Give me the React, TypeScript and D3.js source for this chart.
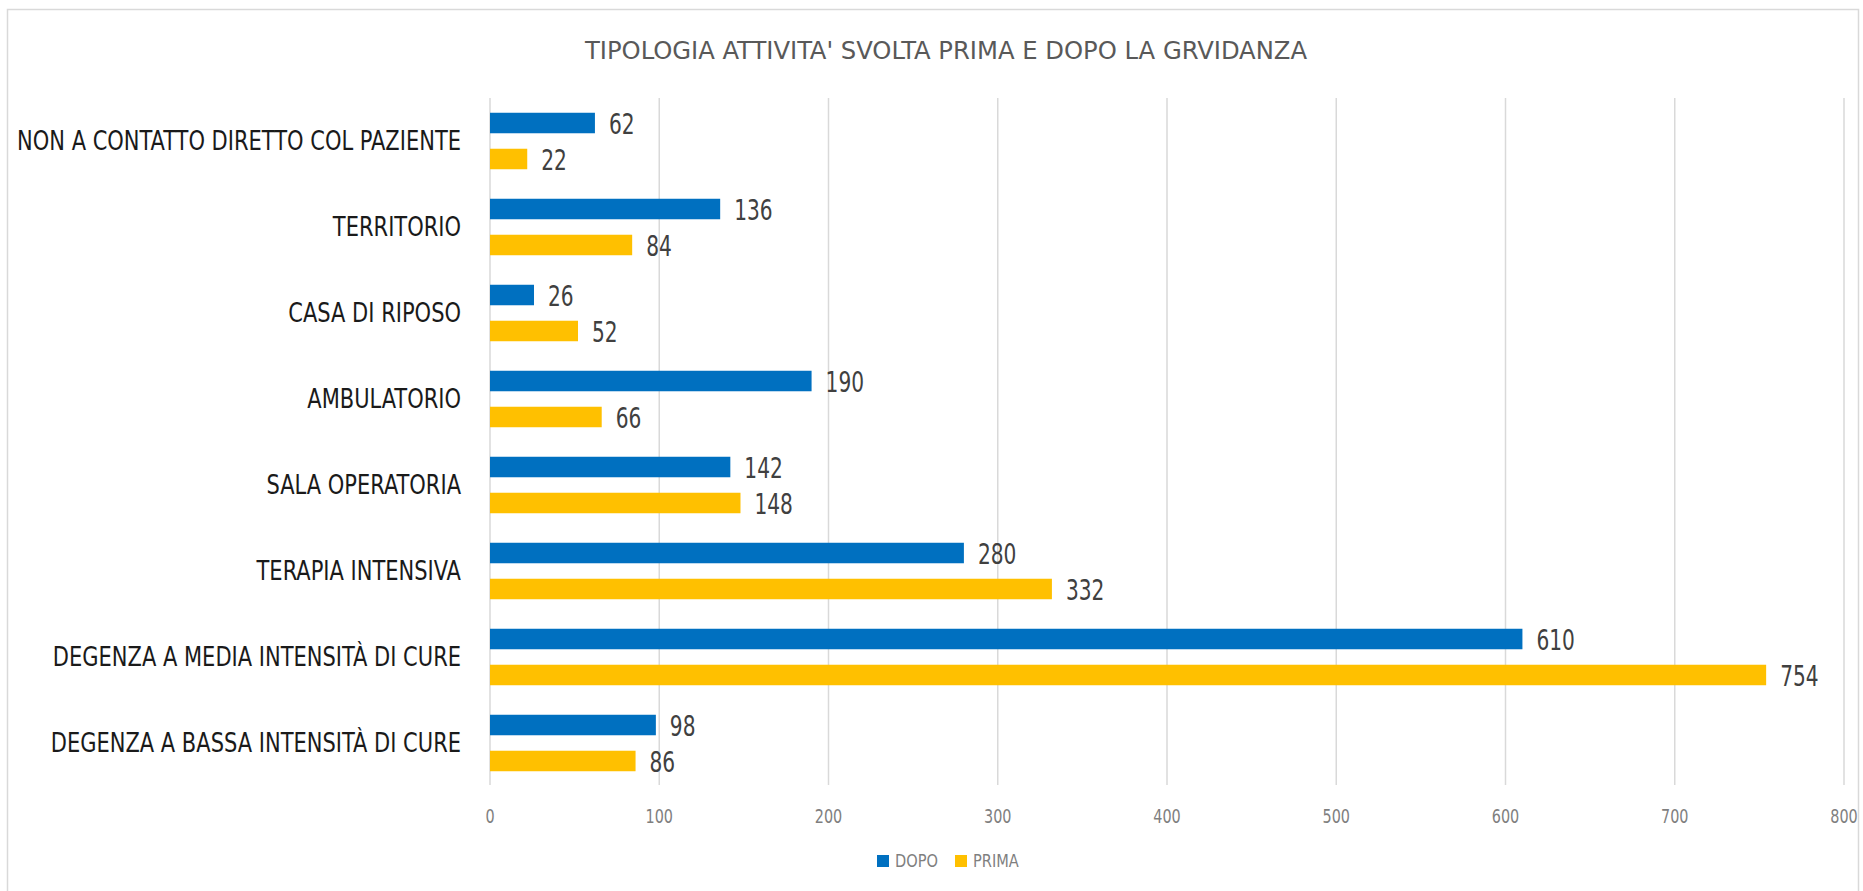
import React from "react";
import * as d3 from "d3";

const categories = [
  "NON A CONTATTO DIRETTO COL PAZIENTE",
  "TERRITORIO",
  "CASA DI RIPOSO",
  "AMBULATORIO",
  "SALA OPERATORIA",
  "TERAPIA INTENSIVA",
  "DEGENZA A MEDIA INTENSITÀ DI CURE",
  "DEGENZA A BASSA INTENSITÀ DI CURE",
];
const dopo = [62, 136, 26, 190, 142, 280, 610, 98];
const prima = [22, 84, 52, 66, 148, 332, 754, 86];
const seriesNames = ["DOPO", "PRIMA"];
const seriesColors = ["#0070C0", "#FFC000"];
const ticks = [0, 100, 200, 300, 400, 500, 600, 700, 800];
const title = "TIPOLOGIA ATTIVITA' SVOLTA PRIMA E DOPO LA GRVIDANZA";

const FONT = "'Liberation Sans Narrow', 'DejaVu Sans Condensed', 'Arial Narrow', sans-serif";

type TProps = {
  x: number;
  y: number;
  sx: number;
  size: number;
  fill: string;
  anchor?: "start" | "middle" | "end";
  children: React.ReactNode;
};

function T({ x, y, sx, size, fill, anchor = "start", children }: TProps) {
  return (
    <g transform={`translate(${x},${y}) scale(${sx},1)`}>
      <text x={0} y={0} textAnchor={anchor} dominantBaseline="central" fontSize={size} fill={fill}>
        {children}
      </text>
    </g>
  );
}

export default function App() {
  const W = 1863;
  const H = 891;
  const x = d3.scaleLinear().domain([0, 800]).range([490, 1844]);
  const y = d3.scaleBand<string>().domain(categories).range([98, 786]).paddingInner(0).paddingOuter(0);
  const ys = d3
    .scaleBand<string>()
    .domain(seriesNames)
    .range([0, y.bandwidth()])
    .paddingInner(0.43)
    .paddingOuter(0.41);
  const values = [dopo, prima];

  return (
    <svg width={W} height={H} style={{ position: "absolute", left: 0, top: 0, background: "#fff" }} fontFamily={FONT}>
      <rect x={0} y={0} width={W} height={H} fill="#fff" />
      <rect x={7.5} y={9.5} width={1851} height={900} fill="#fff" stroke="#d9d9d9" strokeWidth={1.5} />
      <T x={946} y={50} sx={1.08} size={25} fill="#595959" anchor="middle">
        {title}
      </T>
      {ticks.map((t) => (
        <g key={t}>
          <line x1={x(t)} x2={x(t)} y1={98} y2={785} stroke="#d9d9d9" strokeWidth={1.5} />
          <T x={x(t)} y={816} sx={0.8} size={20} fill="#7f7f7f" anchor="middle">
            {t}
          </T>
        </g>
      ))}
      {categories.map((c, i) => (
        <g key={c}>
          <T x={461} y={(y(c) as number) + y.bandwidth() / 2} sx={0.865} size={27} fill="#1a1a1a" anchor="end">
            {c}
          </T>
          {seriesNames.map((s, j) => {
            const v = values[j][i];
            const by = (y(c) as number) + (ys(s) as number);
            return (
              <g key={s}>
                <rect x={x(0)} y={by} width={x(v) - x(0)} height={ys.bandwidth()} fill={seriesColors[j]} />
                <T x={x(v) + 14} y={by + ys.bandwidth() / 2 + 1} sx={0.8} size={28} fill="#404040">
                  {v}
                </T>
              </g>
            );
          })}
        </g>
      ))}
      <g>
        <rect x={877} y={855} width={12} height={12} fill={seriesColors[0]} />
        <T x={895} y={861} sx={0.9} size={18} fill="#7f7f7f">
          {seriesNames[0]}
        </T>
        <rect x={955} y={855} width={12} height={12} fill={seriesColors[1]} />
        <T x={973} y={861} sx={0.9} size={18} fill="#7f7f7f">
          {seriesNames[1]}
        </T>
      </g>
    </svg>
  );
}
